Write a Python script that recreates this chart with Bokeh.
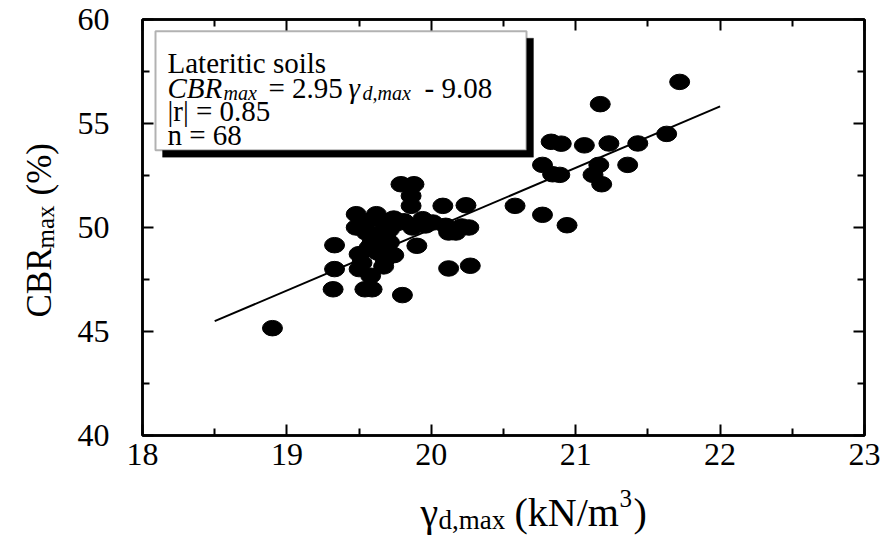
import math
from bokeh.plotting import figure
from bokeh.models import LinearAxis, Label, BoxAnnotation, FixedTicker, Range1d
from bokeh.layouts import row, column
from bokeh.embed import file_html
from bokeh.resources import INLINE

# ---- data ----
gamma_dmax = [
    18.90,
    21.72, 21.17, 20.83, 20.90, 21.06, 21.23, 21.43, 21.63, 20.77, 20.84,
    20.89, 21.16, 21.12, 21.18, 21.36, 20.58, 20.77, 20.94,
    19.79, 19.88, 19.86, 19.86, 20.08, 20.24, 19.48, 19.62, 19.74, 19.94,
    19.48, 19.55, 19.87, 20.01, 20.10, 20.17, 20.26, 19.68, 19.64, 19.59,
    19.71, 19.33, 19.90, 19.50, 19.74, 19.33, 19.50, 19.67, 19.58, 20.12,
    20.27, 19.32, 19.54, 19.59, 19.80,
    19.68, 19.61, 19.66, 19.57, 19.68, 19.52, 19.76, 19.56, 19.71, 19.63,
    20.12, 20.21, 19.96, 19.81,
]
cbr_max = [
    45.16,
    57.00, 55.93, 54.12, 54.03, 53.95, 54.04, 54.04, 54.50, 53.01, 52.56,
    52.53, 53.01, 52.53, 52.08, 53.01, 51.04, 50.61, 50.11,
    52.08, 52.08, 51.52, 51.04, 51.04, 51.07, 50.64, 50.64, 50.43, 50.40,
    50.00, 49.76, 50.00, 50.24, 50.08, 49.76, 50.00, 50.08, 49.68, 49.28,
    49.28, 49.15, 49.12, 48.72, 48.67, 48.00, 48.00, 48.13, 47.68, 48.03,
    48.16, 47.03, 47.03, 47.03, 46.75,
    49.76, 49.52, 49.18, 49.04, 48.46, 48.30, 50.20, 50.30, 49.90, 48.80,
    49.76, 50.05, 50.10, 50.30,
]
x_ticks = [18, 19, 20, 21, 22, 23]
x_minor = [18.5, 19.5, 20.5, 21.5, 22.5]
y_ticks = [40, 45, 50, 55, 60]
y_minor = [42.5, 47.5, 52.5, 57.5]
fit_slope = 2.95
fit_intercept = -9.08
fit_x = [18.5, 22.0]
fit_y = [fit_slope * v + fit_intercept for v in fit_x]

FONT = "Liberation Serif"
TOTAL_H = 539
MAIN_H = 482

# ---------------- main chart ----------------
p = figure(width=820, height=MAIN_H, x_range=Range1d(18, 23), y_range=Range1d(40, 60),
           output_backend="svg", toolbar_location=None, title=None,
           min_border_left=82, min_border_right=16, min_border_top=19,
           min_border_bottom=MAIN_H - 19 - 416)
p.grid.visible = False
p.outline_line_color = "black"
p.outline_line_width = 2.5
p.background_fill_color = "white"
p.border_fill_color = "white"

left_ax = p.left[0]
bottom_ax = p.below[0]
left_ax.ticker = FixedTicker(ticks=y_ticks, minor_ticks=y_minor)
bottom_ax.ticker = FixedTicker(ticks=x_ticks, minor_ticks=x_minor)

right_ax = LinearAxis(ticker=FixedTicker(ticks=y_ticks, minor_ticks=y_minor))
top_ax = LinearAxis(ticker=FixedTicker(ticks=x_ticks, minor_ticks=x_minor))
p.add_layout(right_ax, "right")
p.add_layout(top_ax, "above")

for ax in [left_ax, bottom_ax, right_ax, top_ax]:
    ax.major_tick_in = 11
    ax.major_tick_out = 0
    ax.minor_tick_in = 7
    ax.minor_tick_out = 0
    ax.axis_line_width = 2.5
    ax.major_tick_line_width = 2
    ax.minor_tick_line_width = 2
    ax.axis_line_color = "black"
    ax.major_tick_line_color = "black"
    ax.minor_tick_line_color = "black"
    ax.major_label_text_font = FONT
    ax.major_label_text_font_size = "32px"
    ax.major_label_text_color = "black"

for ax in [right_ax, top_ax]:
    ax.major_label_text_font_size = "0px"
    ax.major_label_standoff = 0

left_ax.major_label_standoff = 33
bottom_ax.major_label_standoff = 8

p.line(fit_x, fit_y, line_color="black", line_width=2)
p.ellipse(x=gamma_dmax, y=cbr_max, width=0.1385, height=0.745,
          fill_color="black", line_color="black")

# ---- annotation placement helpers (page pixels -> data anchors) ----
X0, Y0, SX, SY = 150.0, 27.3, 144.4, 20.8

def X(px):
    return 18 + (px - X0) / SX

def Y(py):
    return 60 - (py - Y0) / SY

p.add_layout(BoxAnnotation(left=X(170), right=X(541), top=Y(46), bottom=Y(165),
                           fill_color="black", fill_alpha=1.0, line_color="black"))
p.add_layout(BoxAnnotation(left=X(163), right=X(534), top=Y(39), bottom=Y(158),
                           fill_color="white", fill_alpha=1.0, line_color="black",
                           line_width=2))

def mk(text, x, y, size, italic=False, angle=0.0, x_off=0.0, y_off=0.0):
    return Label(x=x, y=y, x_offset=x_off, y_offset=y_off, text=text,
                 text_font=FONT, text_font_size=f"{size}px",
                 text_font_style="italic" if italic else "normal",
                 text_color="black", text_baseline="alphabetic",
                 text_align="left", angle=angle)

def lab(text, px, py, size, italic=False):
    p.add_layout(mk(text, 18, 60, size, italic, x_off=px - X0, y_off=-(py - Y0)))

# legend box text
lab("Lateritic soils", 175, 71, 29)
lab("CBR", 175, 96, 29, italic=True)
lab("max", 231, 101, 20, italic=True)
lab("= 2.95", 276, 96, 29)
lab("\u03b3", 356, 96, 29, italic=True)
lab("d,max", 370, 101, 20, italic=True)
lab("- 9.08", 432, 96, 29)
lab("|r| = 0.85", 175, 119, 29)
lab("n = 68", 175, 143, 29)

# ---------------- y axis title panel ----------------
ylab = figure(width=60, height=TOTAL_H, x_range=Range1d(0, 60), y_range=Range1d(0, TOTAL_H),
              output_backend="svg", toolbar_location=None, min_border=0, title=None,
              x_axis_location=None, y_axis_location=None)
ylab.grid.visible = False
ylab.outline_line_color = None

def ylab_text(text, px, py, size):
    ylab.add_layout(mk(text, px - 8, (TOTAL_H + 8) - py, size, angle=math.pi / 2))

ylab_text("CBR", 47, 325, 35)
ylab_text("max", 53, 256, 25)
ylab_text("(%)", 47, 203, 35)

# ---------------- x axis title panel (frame aligned with the chart's frame) ----------------
XH = TOTAL_H - MAIN_H
xlab = figure(width=820, height=XH, x_range=Range1d(18, 23), y_range=Range1d(0, XH),
              output_backend="svg", toolbar_location=None, title=None,
              min_border_left=82, min_border_right=16, min_border_top=0, min_border_bottom=0,
              x_axis_location=None, y_axis_location=None)
xlab.grid.visible = False
xlab.outline_line_color = None

def xlab_text(text, px, py, size):
    xlab.add_layout(mk(text, 18, (TOTAL_H + 8) - py, size, x_off=px - X0))

xlab_text("\u03b3", 428, 520, 40)
xlab_text("d,max", 446, 527, 27)
xlab_text("(kN/m", 522, 520, 40)
xlab_text("3", 627, 506, 25)
xlab_text(")", 641, 520, 40)

layout = row(ylab, column(p, xlab, spacing=0), spacing=0)
open("out.html", "w").write(file_html(layout, INLINE))
